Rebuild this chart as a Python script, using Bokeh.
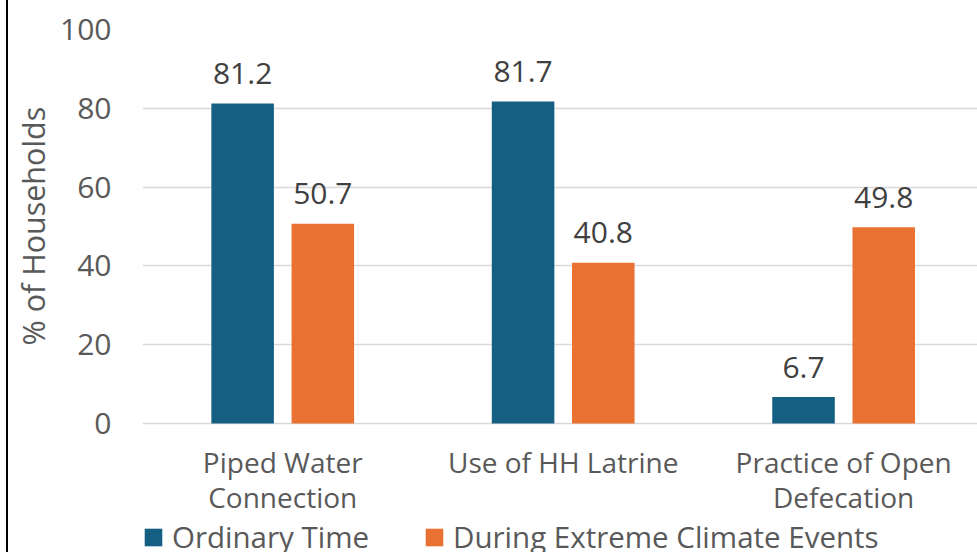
from bokeh.plotting import figure
from bokeh.models import ColumnDataSource, Range1d, FixedTicker, Legend, LegendItem, Title
from bokeh.embed import file_html
from bokeh.resources import INLINE
from bokeh.core.properties import value
from bokeh.transform import dodge

categories = ["Piped Water\nConnection", "Use of HH Latrine", "Practice of Open\nDefecation"]
ordinary_time = [81.2, 81.7, 6.7]
extreme_events = [50.7, 40.8, 49.8]
series_names = ["Ordinary Time", "During Extreme Climate Events"]
y_ticks = [0, 20, 40, 60, 80, 100]
y_title = "% of Households"

FONT = "Open Sans"
BLUE = "#156082"
ORANGE = "#E97132"
TXT = "#595959"

idx = list(range(len(categories)))
src = ColumnDataSource(dict(
    x=idx,
    ordinary=ordinary_time,
    extreme=extreme_events,
    ordinary_lbl=[f"{v:.1f}" for v in ordinary_time],
    extreme_lbl=[f"{v:.1f}" for v in extreme_events],
))

p = figure(width=977, height=552, output_backend="svg", toolbar_location=None,
           title=None, x_range=Range1d(-0.5, -0.5 + 835 / 280.45), y_range=Range1d(-32.74, 100),
           min_border_left=142, min_border_right=0, min_border_top=29, min_border_bottom=0)
p.outline_line_color = None
p.background_fill_color = "white"
p.border_fill_color = None
p.styles = {"background": "linear-gradient(to right, #ffffff 6px, #000000 6px, #000000 8px, #ffffff 8px)"}

off = 0.143
w = 0.223
r1 = p.vbar(x=dodge("x", -off), top="ordinary", width=w, source=src, fill_color=BLUE, line_color=None)
r2 = p.vbar(x=dodge("x", off), top="extreme", width=w, source=src, fill_color=ORANGE, line_color=None)

for col, lbl, o in [("ordinary", "ordinary_lbl", -off), ("extreme", "extreme_lbl", off)]:
    p.text(x=dodge("x", o), y=col, text=lbl, source=src, text_align="center",
           text_baseline="alphabetic", y_offset=-30, text_font=value(FONT),
           text_font_size="30px", text_color="#404040")

# y axis
p.yaxis.ticker = FixedTicker(ticks=y_ticks)
p.yaxis.axis_line_color = None
p.yaxis.major_tick_line_color = None
p.yaxis.minor_tick_line_color = None
p.yaxis.major_label_standoff = 25
p.yaxis.major_label_text_font = FONT
p.yaxis.major_label_text_font_size = "30px"
p.yaxis.major_label_text_color = TXT

p.add_layout(Title(text=y_title, align="left", offset=207, standoff=8,
                   text_font=FONT, text_font_size="30.5px", text_font_style="normal",
                   text_color=TXT), "left")

# x axis, fixed at y = 0
xa = p.xaxis[0]
xa.fixed_location = 0
xa.ticker = FixedTicker(ticks=idx)
xa.major_label_overrides = {i: c for i, c in zip(idx, categories)}
xa.axis_line_color = None
xa.major_tick_line_color = None
xa.minor_tick_line_color = None
xa.major_label_standoff = 13
xa.major_label_text_font = FONT
xa.major_label_text_font_size = "28px"
xa.major_label_text_line_height = 0.94
xa.major_label_text_color = TXT

p.xgrid.grid_line_color = None
p.ygrid.grid_line_color = "#D9D9D9"
p.ygrid.grid_line_width = 1.5

legend = Legend(items=[LegendItem(label=series_names[0], renderers=[r1]),
                       LegendItem(label=series_names[1], renderers=[r2])],
                orientation="horizontal", location=(0, -5),
                glyph_width=22, glyph_height=22, label_standoff=8, spacing=54,
                padding=0, margin=0, border_line_color=None, background_fill_alpha=0,
                label_text_font=FONT, label_text_font_size="29.5px", label_text_color=TXT)
p.add_layout(legend, "center")

open("out.html", "w").write(file_html(p, INLINE))
